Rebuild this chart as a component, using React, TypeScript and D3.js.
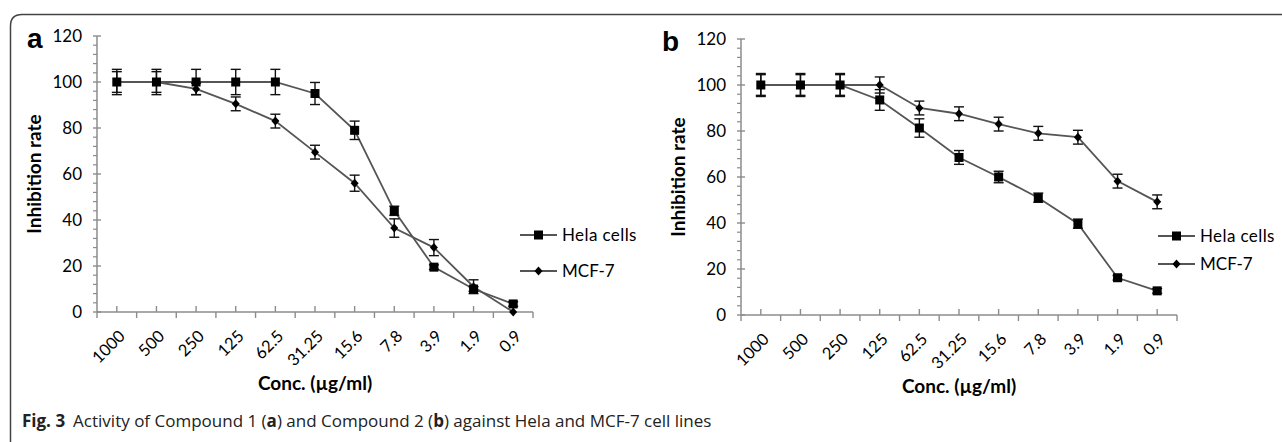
import * as d3 from "d3";

const concLabels = ["1000", "500", "250", "125", "62.5", "31.25", "15.6", "7.8", "3.9", "1.9", "0.9"];
const yTicks = [0, 20, 40, 60, 80, 100, 120];

// panel a (compound 1)
const helaA = [100, 100, 100, 100, 100, 95, 79, 44, 19.5, 10, 3.5];
const helaAErr = [5.5, 5.5, 5.5, 5.5, 5.5, 4.8, 4, 2, 1, 1, 1];
const mcfA = [100, 100, 97, 90.5, 83, 69.5, 56, 36.5, 28, 11, 0];
const mcfAErr = [4.5, 4.5, 2.5, 3, 3, 3, 3.5, 4, 3.5, 3, 0];

// panel b (compound 2)
const helaB = [100, 100, 100, 93.5, 81.3, 68.5, 60, 51, 39.7, 16.2, 10.5];
const helaBErr = [4.5, 4.5, 4.5, 4.5, 4, 3, 2.5, 2, 2, 1, 1];
const mcfB = [100, 100, 100, 100, 90, 87.5, 83, 79, 77.3, 58.2, 49.2];
const mcfBErr = [5, 5, 5, 3.5, 3, 3, 3, 3, 3, 3, 3];

const FONT = "Lato, 'Open Sans', sans-serif";
const AXIS = "#8c8c8c";
const LINE = "#555";

type PanelProps = {
  letter: string;
  letterX: number;
  left: number;
  right: number;
  top: number;
  bottom: number;
  hela: number[];
  helaErr: number[];
  mcf: number[];
  mcfErr: number[];
  legendX: number;
  legendY: [number, number];
};

function Panel({ letter, letterX, left, right, top, bottom, hela, helaErr, mcf, mcfErr, legendX, legendY }: PanelProps) {
  const x = d3.scaleBand<string>().domain(concLabels).range([left, right]).padding(0);
  const y = d3.scaleLinear().domain([0, 120]).range([bottom, top]);
  const cx = (c: string) => (x(c) ?? 0) + x.bandwidth() / 2;
  const minor = d3.range(0, 121, 4).filter((v) => v % 20 !== 0);
  const line = d3
    .line<number>()
    .x((_, i) => cx(concLabels[i]))
    .y((d) => y(d));

  const errBars = (vals: number[], errs: number[], key: string) =>
    vals.map((v, i) =>
      errs[i] > 0 ? (
        <g key={key + i} stroke="#111" strokeWidth={1.4}>
          <line x1={cx(concLabels[i])} x2={cx(concLabels[i])} y1={y(v + errs[i])} y2={y(v - errs[i])} />
          <line x1={cx(concLabels[i]) - 5} x2={cx(concLabels[i]) + 5} y1={y(v + errs[i])} y2={y(v + errs[i])} />
          <line x1={cx(concLabels[i]) - 5} x2={cx(concLabels[i]) + 5} y1={y(v - errs[i])} y2={y(v - errs[i])} />
        </g>
      ) : null
    );

  const square = (px: number, py: number, key: string) => (
    <rect key={key} x={px - 4.5} y={py - 4.5} width={9} height={9} fill="#000" />
  );
  const diamond = (px: number, py: number, key: string) => (
    <path key={key} d={`M${px},${py - 4.5}L${px + 4},${py}L${px},${py + 4.5}L${px - 4},${py}Z`} fill="#000" />
  );

  return (
    <g fontFamily={FONT}>
      <text x={letterX} y={top + 12} fontSize={28} fontWeight="bold" fontFamily="'Liberation Sans', Arial, sans-serif">
        {letter}
      </text>
      {/* y axis */}
      <line x1={left} x2={left} y1={top} y2={bottom} stroke={AXIS} strokeWidth={1.5} />
      {minor.map((v) => (
        <line key={"mn" + v} x1={left - 4} x2={left} y1={y(v)} y2={y(v)} stroke={AXIS} strokeWidth={1.2} />
      ))}
      {yTicks.map((v) => (
        <g key={"yt" + v}>
          <line x1={left - 4} x2={left + 4} y1={y(v)} y2={y(v)} stroke={AXIS} strokeWidth={1.4} />
          <text x={left - 15} y={y(v)} dy="0.36em" textAnchor="end" fontSize={17} fill="#000">
            {v}
          </text>
        </g>
      ))}
      {/* x axis */}
      <line x1={left} x2={right} y1={bottom} y2={bottom} stroke={AXIS} strokeWidth={1.5} />
      {concLabels.map((c) => (
        <g key={"xt" + c}>
          <line x1={cx(c)} x2={cx(c)} y1={bottom - 6} y2={bottom} stroke={AXIS} strokeWidth={1.4} />
          <line x1={x(c)} x2={x(c)} y1={bottom} y2={bottom + 6} stroke={AXIS} strokeWidth={1.4} />
          <text
            transform={`translate(${cx(c) + 1},${bottom + 17}) rotate(-45)`}
            dy="0.7em"
            textAnchor="end"
            fontSize={16.5}
            fill="#000"
          >
            {c}
          </text>
        </g>
      ))}
      <line x1={right} x2={right} y1={bottom} y2={bottom + 6} stroke={AXIS} strokeWidth={1.4} />
      {/* axis titles */}
      <text
        transform={`translate(${left - 63},${(top + bottom) / 2}) rotate(-90)`}
        textAnchor="middle"
        dy="0.36em"
        fontSize={19}
        fontWeight="bold"
      >
        Inhibition rate
      </text>
      <text x={(left + right) / 2} y={bottom + 78} textAnchor="middle" fontSize={19} fontWeight="bold">
        Conc. (µg/ml)
      </text>
      {/* series */}
      <path d={line(hela) ?? ""} fill="none" stroke={LINE} strokeWidth={1.8} />
      <path d={line(mcf) ?? ""} fill="none" stroke={LINE} strokeWidth={1.8} />
      {errBars(hela, helaErr, "he")}
      {errBars(mcf, mcfErr, "me")}
      {hela.map((v, i) => square(cx(concLabels[i]), y(v), "hs" + i))}
      {mcf.map((v, i) => diamond(cx(concLabels[i]), y(v), "md" + i))}
      {/* legend */}
      <line x1={legendX} x2={legendX + 37} y1={legendY[0]} y2={legendY[0]} stroke={LINE} strokeWidth={1.8} />
      {square(legendX + 18.5, legendY[0], "lg1")}
      <text x={legendX + 42} y={legendY[0]} dy="0.36em" fontSize={17} letterSpacing={0.4}>
        Hela cells
      </text>
      <line x1={legendX} x2={legendX + 37} y1={legendY[1]} y2={legendY[1]} stroke={LINE} strokeWidth={1.8} />
      {diamond(legendX + 18.5, legendY[1], "lg2")}
      <text x={legendX + 42} y={legendY[1]} dy="0.36em" fontSize={17}>
        MCF-7
      </text>
    </g>
  );
}

export default function App() {
  return (
    <svg width={1282} height={442} style={{ position: "absolute", left: 0, top: 0 }}>
      <rect width={1282} height={442} fill="#fff" />
      <path d="M10.5,442 L10.5,26 Q10.5,14.5 22,14.5 L1282,14.5" fill="none" stroke="#444" strokeWidth={1.5} />
      <Panel
        letter="a"
        letterX={27}
        left={97}
        right={533}
        top={36}
        bottom={312}
        hela={helaA}
        helaErr={helaAErr}
        mcf={mcfA}
        mcfErr={mcfAErr}
        legendX={520}
        legendY={[235, 271]}
      />
      <Panel
        letter="b"
        letterX={662}
        left={741}
        right={1177}
        top={39}
        bottom={315}
        hela={helaB}
        helaErr={helaBErr}
        mcf={mcfB}
        mcfErr={mcfBErr}
        legendX={1158}
        legendY={[236, 264]}
      />
      <text x={22} y={427} fontFamily="'Open Sans', sans-serif" fontSize={17} fill="#222">
        <tspan fontWeight="bold">Fig. 3</tspan>
        <tspan dx={8}>Activity of Compound 1 (</tspan>
        <tspan fontWeight="bold">a</tspan>
        <tspan>) and Compound 2 (</tspan>
        <tspan fontWeight="bold">b</tspan>
        <tspan>) against Hela and MCF-7 cell lines</tspan>
      </text>
    </svg>
  );
}
